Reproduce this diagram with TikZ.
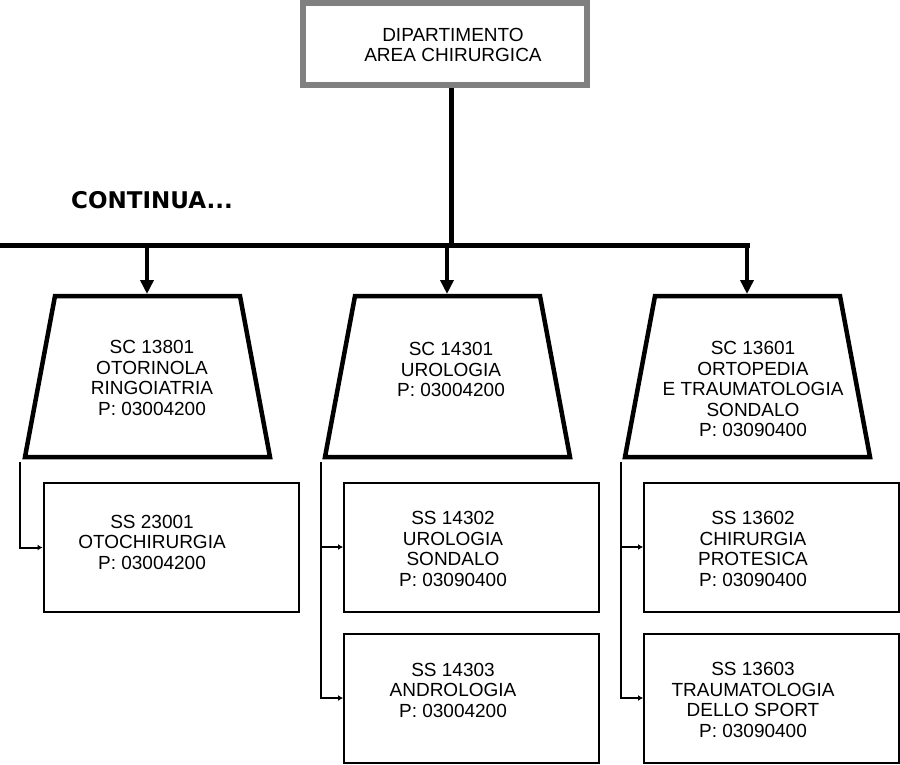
\documentclass[tikz,border=0pt]{standalone}
\usepackage{fontspec}
\setmainfont{Liberation Sans}
\newfontfamily\contfont{DejaVu Sans}
\usetikzlibrary{arrows.meta}
\definecolor{topgray}{RGB}{128,128,128}
\tikzset{
  txt/.style={align=center,inner sep=0pt,font=\fontsize{19}{20.5}\selectfont},
  topbox/.style={draw=topgray,line width=6pt,minimum width=284pt,minimum height=82pt,inner sep=0pt},
  ssbox/.style={draw,line width=2pt,minimum width=255pt,minimum height=129pt,inner sep=0pt},
  trapline/.style={line width=4.5pt,line join=miter},
  busline/.style={line width=5pt},
  drop/.style={line width=4pt,-{Triangle[width=13pt,length=14pt]}},
  conn/.style={line width=2pt,-{Latex[length=5pt,width=6pt]}},
}
\begin{document}
\begin{tikzpicture}[x=1pt,y=-1pt]
\useasboundingbox (0,0) rectangle (900,765);
% top box
\node[topbox] (top) at (445,44) {};
\node[txt] (toptxt) at (453,45) {DIPARTIMENTO\\AREA CHIRURGICA};
% continua
\node[inner sep=0pt,font=\contfont\bfseries\fontsize{23}{24}\selectfont] (cont) at (152,200) {CONTINUA...};
% bus
\coordinate (busL) at (0,245.5);
\coordinate (busR) at (749.5,245.5);
\coordinate (d1) at (147,245.5);
\coordinate (d2) at (447,245.5);
\coordinate (d3) at (747,245.5);
\coordinate (topbot) at (451,245.5);
\draw[line width=5pt] (top.south -| topbot) -- (topbot);
\draw[busline] (busL) -- (busR);
% trapezoids
\coordinate (t1) at (147,294);
\coordinate (t2) at (447,294);
\coordinate (t3) at (747,294);
\draw[trapline] (55,296) -- (240,296) -- (270,457) -- (25,457) -- cycle;
\draw[trapline] (355,296) -- (540,296) -- (570,457) -- (325,457) -- cycle;
\draw[trapline] (655,296) -- (840,296) -- (870,457) -- (625,457) -- cycle;
\draw[drop] (d1) -- (t1);
\draw[drop] (d2) -- (t2);
\draw[drop] (d3) -- (t3);
\node[txt] (sc1) at (152,378) {SC 13801\\OTORINOLA\\RINGOIATRIA\\P: 03004200};
\node[txt] (sc2) at (451,369.5) {SC 14301\\UROLOGIA\\P: 03004200};
\node[txt] (sc3) at (753,389) {SC 13601\\ORTOPEDIA\\E TRAUMATOLOGIA\\SONDALO\\P: 03090400};
% sub boxes
\node[ssbox] (b1) at (171,547.5) {};
\node[ssbox] (b2) at (471.5,547) {};
\node[ssbox] (b3) at (471.5,698) {};
\node[ssbox] (b4) at (771.5,547) {};
\node[ssbox] (b5) at (771.5,698) {};
\node[txt] (ss1) at (152,542) {SS 23001\\OTOCHIRURGIA\\P: 03004200};
\node[txt] (ss2) at (453,549) {SS 14302\\UROLOGIA\\SONDALO\\P: 03090400};
\node[txt] (ss3) at (453,690) {SS 14303\\ANDROLOGIA\\P: 03004200};
\node[txt] (ss4) at (753,549) {SS 13602\\CHIRURGIA\\PROTESICA\\P: 03090400};
\node[txt] (ss5) at (753,700) {SS 13603\\TRAUMATOLOGIA\\DELLO SPORT\\P: 03090400};
% connectors
\coordinate (s1) at (20,462);
\coordinate (s2) at (321,462);
\coordinate (s3) at (621,462);
\draw[conn] (s1) |- (b1.west);
\draw[conn] (s2) |- (b2.west);
\draw[conn] (s2) |- (b3.west);
\draw[conn] (s3) |- (b4.west);
\draw[conn] (s3) |- (b5.west);
\end{tikzpicture}
\end{document}
